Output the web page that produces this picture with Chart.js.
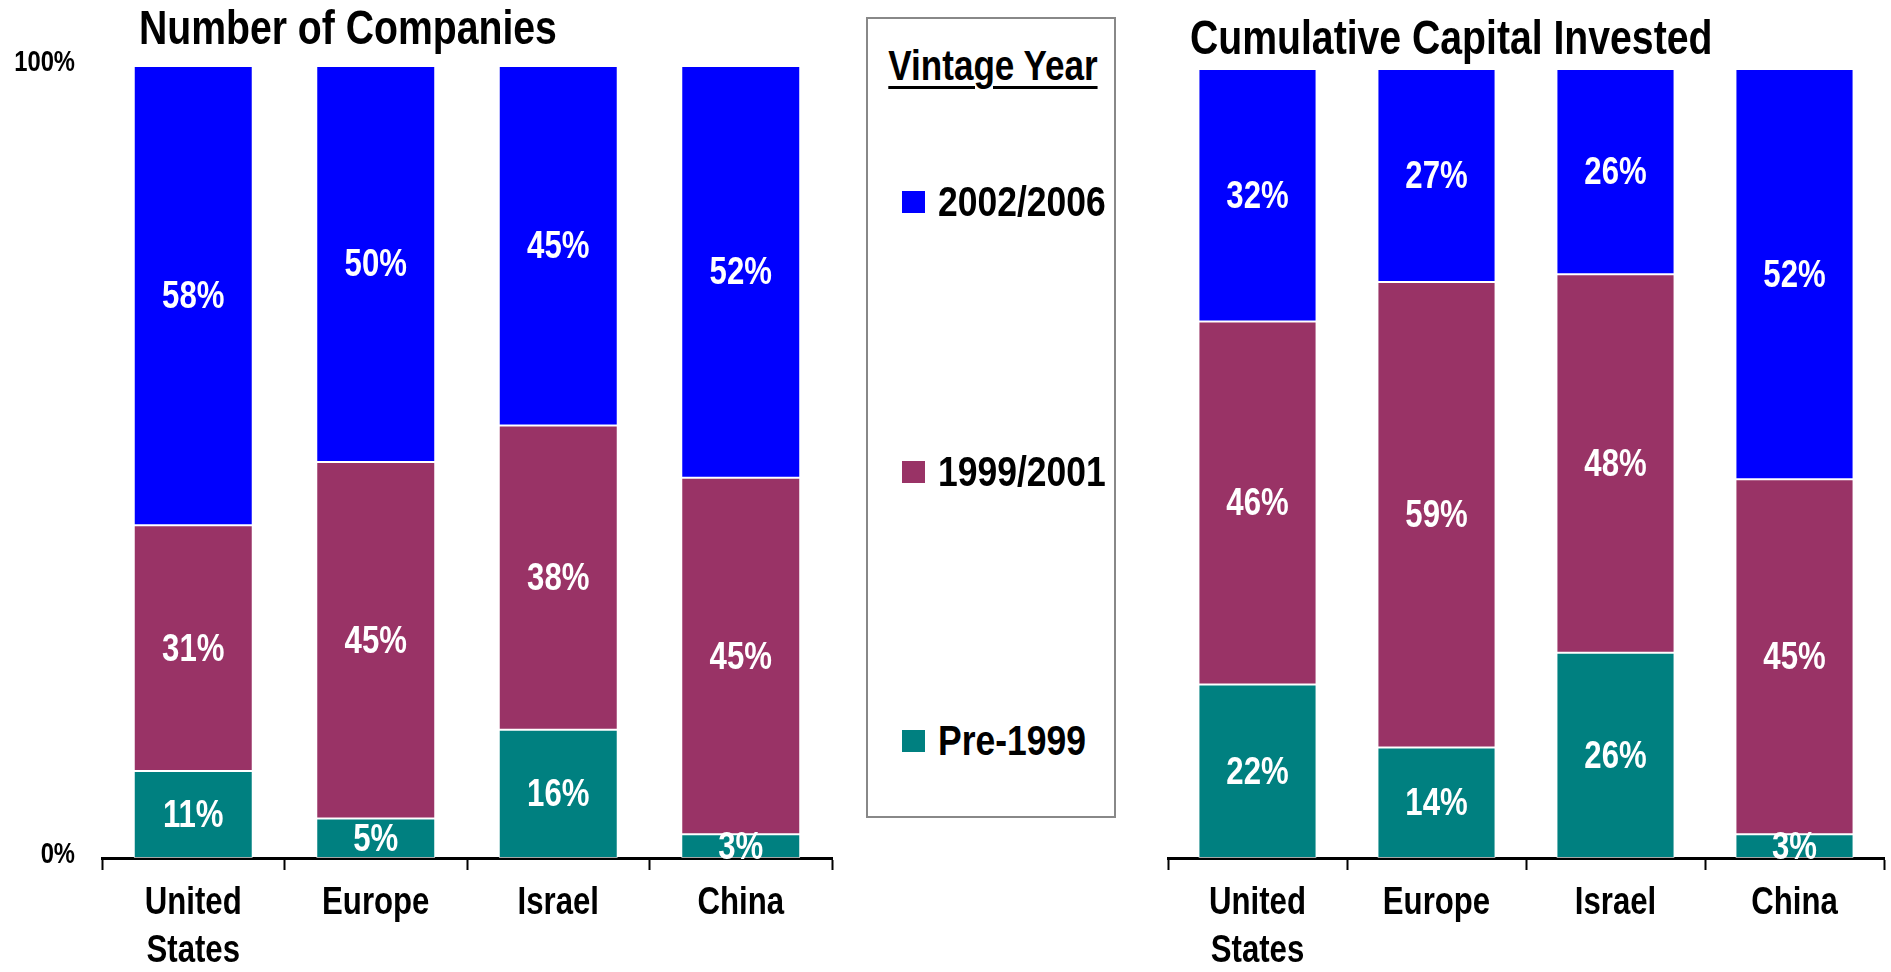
<!DOCTYPE html>
<html>
<head>
<meta charset="utf-8">
<script src="https://cdn.jsdelivr.net/npm/chart.js@4/dist/chart.umd.min.js"></script>
<style>
  html, body { margin: 0; padding: 0; background: #fff; }
  body { width: 1891px; height: 972px; position: relative; overflow: hidden;
         font-family: "Liberation Sans", Arial, sans-serif; font-weight: bold; color: #000; }
  canvas { position: absolute; top: 0; }
  #cL { left: 0; }
  #cR { left: 1130px; }
  .title { position: absolute; font-size: 48px; line-height: 48px; white-space: nowrap;
           transform: scaleX(0.816); transform-origin: 0 0; }
  #tL { left: 139px; top: 4px; }
  #tR { left: 1190px; top: 14px; }
  #legend { position: absolute; left: 866px; top: 17px; width: 250px; height: 801px; box-sizing: border-box; border: 2px solid #888; }
  #legendHead { position: absolute; left: 0; right: 0; top: 26px; text-align: center; font-size: 42px; line-height: 42px; white-space: nowrap;
                transform: scaleX(0.835); transform-origin: 50% 0;
                text-decoration: underline; text-decoration-thickness: 3px; text-underline-offset: 6px; }
  .item { position: absolute; left: 34px; height: 42px; display: flex; align-items: center; font-size: 42px; line-height: 42px; white-space: nowrap; }
  .sw { width: 23px; height: 22px; margin-right: 13px; flex: none; }
  .lt { display: inline-block; transform: scaleX(0.845); transform-origin: 0 50%; }
</style>
</head>
<body>
<canvas id="cL" width="860" height="972"></canvas>
<canvas id="cR" width="761" height="972"></canvas>
<div class="title" id="tL">Number of Companies</div>
<div class="title" id="tR">Cumulative Capital Invested</div>
<div id="legend"><div id="legendHead">Vintage Year</div></div>
<script>
// ---- data ----
const categories = [['United', 'States'], 'Europe', 'Israel', 'China'];
const seriesNames = ['Pre-1999', '1999/2001', '2002/2006'];
const companiesPre1999 = [11, 5, 16.2, 3];
const companies1999_2001 = [31, 45, 38.4, 45];
const companies2002_2006 = [58, 50, 45.4, 52];
const capitalPre1999 = [22, 14, 26, 3];
const capital1999_2001 = [46, 59, 48, 45];
const capital2002_2006 = [32, 27, 26, 52];
const yTickValues = [0, 100];
const yTickLabels = ['0%', '100%'];

// ---- styles ----
const seriesColors = ['#008080', '#993366', '#0000FF'];
const FONT = '"Liberation Sans", Arial, sans-serif';
const NARROW = 0.82; // horizontal squeeze emulating a narrow bold face
Chart.defaults.font.family = FONT;
Chart.defaults.font.weight = 'bold';
Chart.defaults.color = '#000';

// legend (built from series names/colors), listed top to bottom
const legendEl = document.getElementById('legend');
const legendCenters = [202, 472, 741]; // page y centers
[2, 1, 0].forEach((si, k) => {
  const it = document.createElement('div');
  it.className = 'item';
  it.style.top = (legendCenters[k] - 17 - 2 - 21) + 'px';
  const sw = document.createElement('div');
  sw.className = 'sw';
  sw.style.background = seriesColors[si];
  const tx = document.createElement('span');
  tx.className = 'lt';
  tx.textContent = seriesNames[si];
  it.appendChild(sw);
  it.appendChild(tx);
  legendEl.appendChild(it);
});

function narrowCtx(canvas) {
  const ctx = canvas.getContext('2d');
  const orig = CanvasRenderingContext2D.prototype.fillText;
  ctx.fillText = function (t, x, y) {
    this.save();
    this.translate(x, y);
    this.scale(NARROW, 1);
    orig.call(this, t, 0, 0);
    this.restore();
  };
  return ctx;
}

const segLabels = {
  id: 'segLabels',
  afterDatasetsDraw(chart) {
    const ctx = chart.ctx;
    ctx.save();
    ctx.font = 'bold 38px ' + FONT;
    ctx.fillStyle = '#fff';
    ctx.textAlign = 'center';
    ctx.textBaseline = 'middle';
    chart.data.datasets.forEach((ds, i) => {
      chart.getDatasetMeta(i).data.forEach((el, j) => {
        const p = el.getProps(['x', 'y', 'base'], true);
        ctx.fillText(Math.round(ds.data[j]) + '%', p.x, (p.y + p.base) / 2 + 2);
      });
    });
    ctx.restore();
  }
};

function makeDatasets(arrs, barPct) {
  return arrs.map((d, i) => ({
    label: seriesNames[i],
    data: d,
    backgroundColor: seriesColors[i],
    borderColor: 'rgba(255,255,255,0.65)',
    borderWidth: 1,
    borderSkipped: false,
    barPercentage: barPct,
    categoryPercentage: 1
  }));
}

function xScale() {
  return {
    stacked: true,
    grid: { display: true, offset: true, drawOnChartArea: false, drawTicks: true, tickLength: 12, tickWidth: 2, tickColor: '#000' },
    border: { display: true, color: '#000', width: 3 },
    ticks: { font: { size: 38, weight: 'bold', lineHeight: 1.26 }, color: '#000', padding: 10, maxRotation: 0, autoSkip: false },
    afterFit: s => { s.height = 114; }
  };
}

new Chart(narrowCtx(document.getElementById('cL')), {
  type: 'bar',
  data: { labels: categories, datasets: makeDatasets([companiesPre1999, companies1999_2001, companies2002_2006], 0.652) },
  options: {
    responsive: false, animation: false,
    layout: { padding: { top: 66, right: 28, left: 0, bottom: 0 } },
    plugins: { legend: { display: false }, title: { display: false }, tooltip: { enabled: false } },
    scales: {
      x: xScale(),
      y: {
        stacked: true, min: 0, max: 100,
        grid: { display: false, drawTicks: false },
        border: { display: false },
        afterBuildTicks: s => { s.ticks = yTickValues.map(v => ({ value: v })); },
        ticks: { font: { size: 29, weight: 'bold' }, color: '#000', padding: 27, labelOffset: -3,
                 callback: v => yTickLabels[yTickValues.indexOf(v)] },
        afterFit: s => { s.width = 102; }
      }
    }
  },
  plugins: [segLabels]
});

new Chart(narrowCtx(document.getElementById('cR')), {
  type: 'bar',
  data: { labels: categories, datasets: makeDatasets([capitalPre1999, capital1999_2001, capital2002_2006], 0.66) },
  options: {
    responsive: false, animation: false,
    layout: { padding: { top: 69, right: 7, left: 38, bottom: 0 } },
    plugins: { legend: { display: false }, title: { display: false }, tooltip: { enabled: false } },
    scales: {
      x: xScale(),
      y: { stacked: true, min: 0, max: 100, display: false }
    }
  },
  plugins: [segLabels]
});
</script>
</body>
</html>
